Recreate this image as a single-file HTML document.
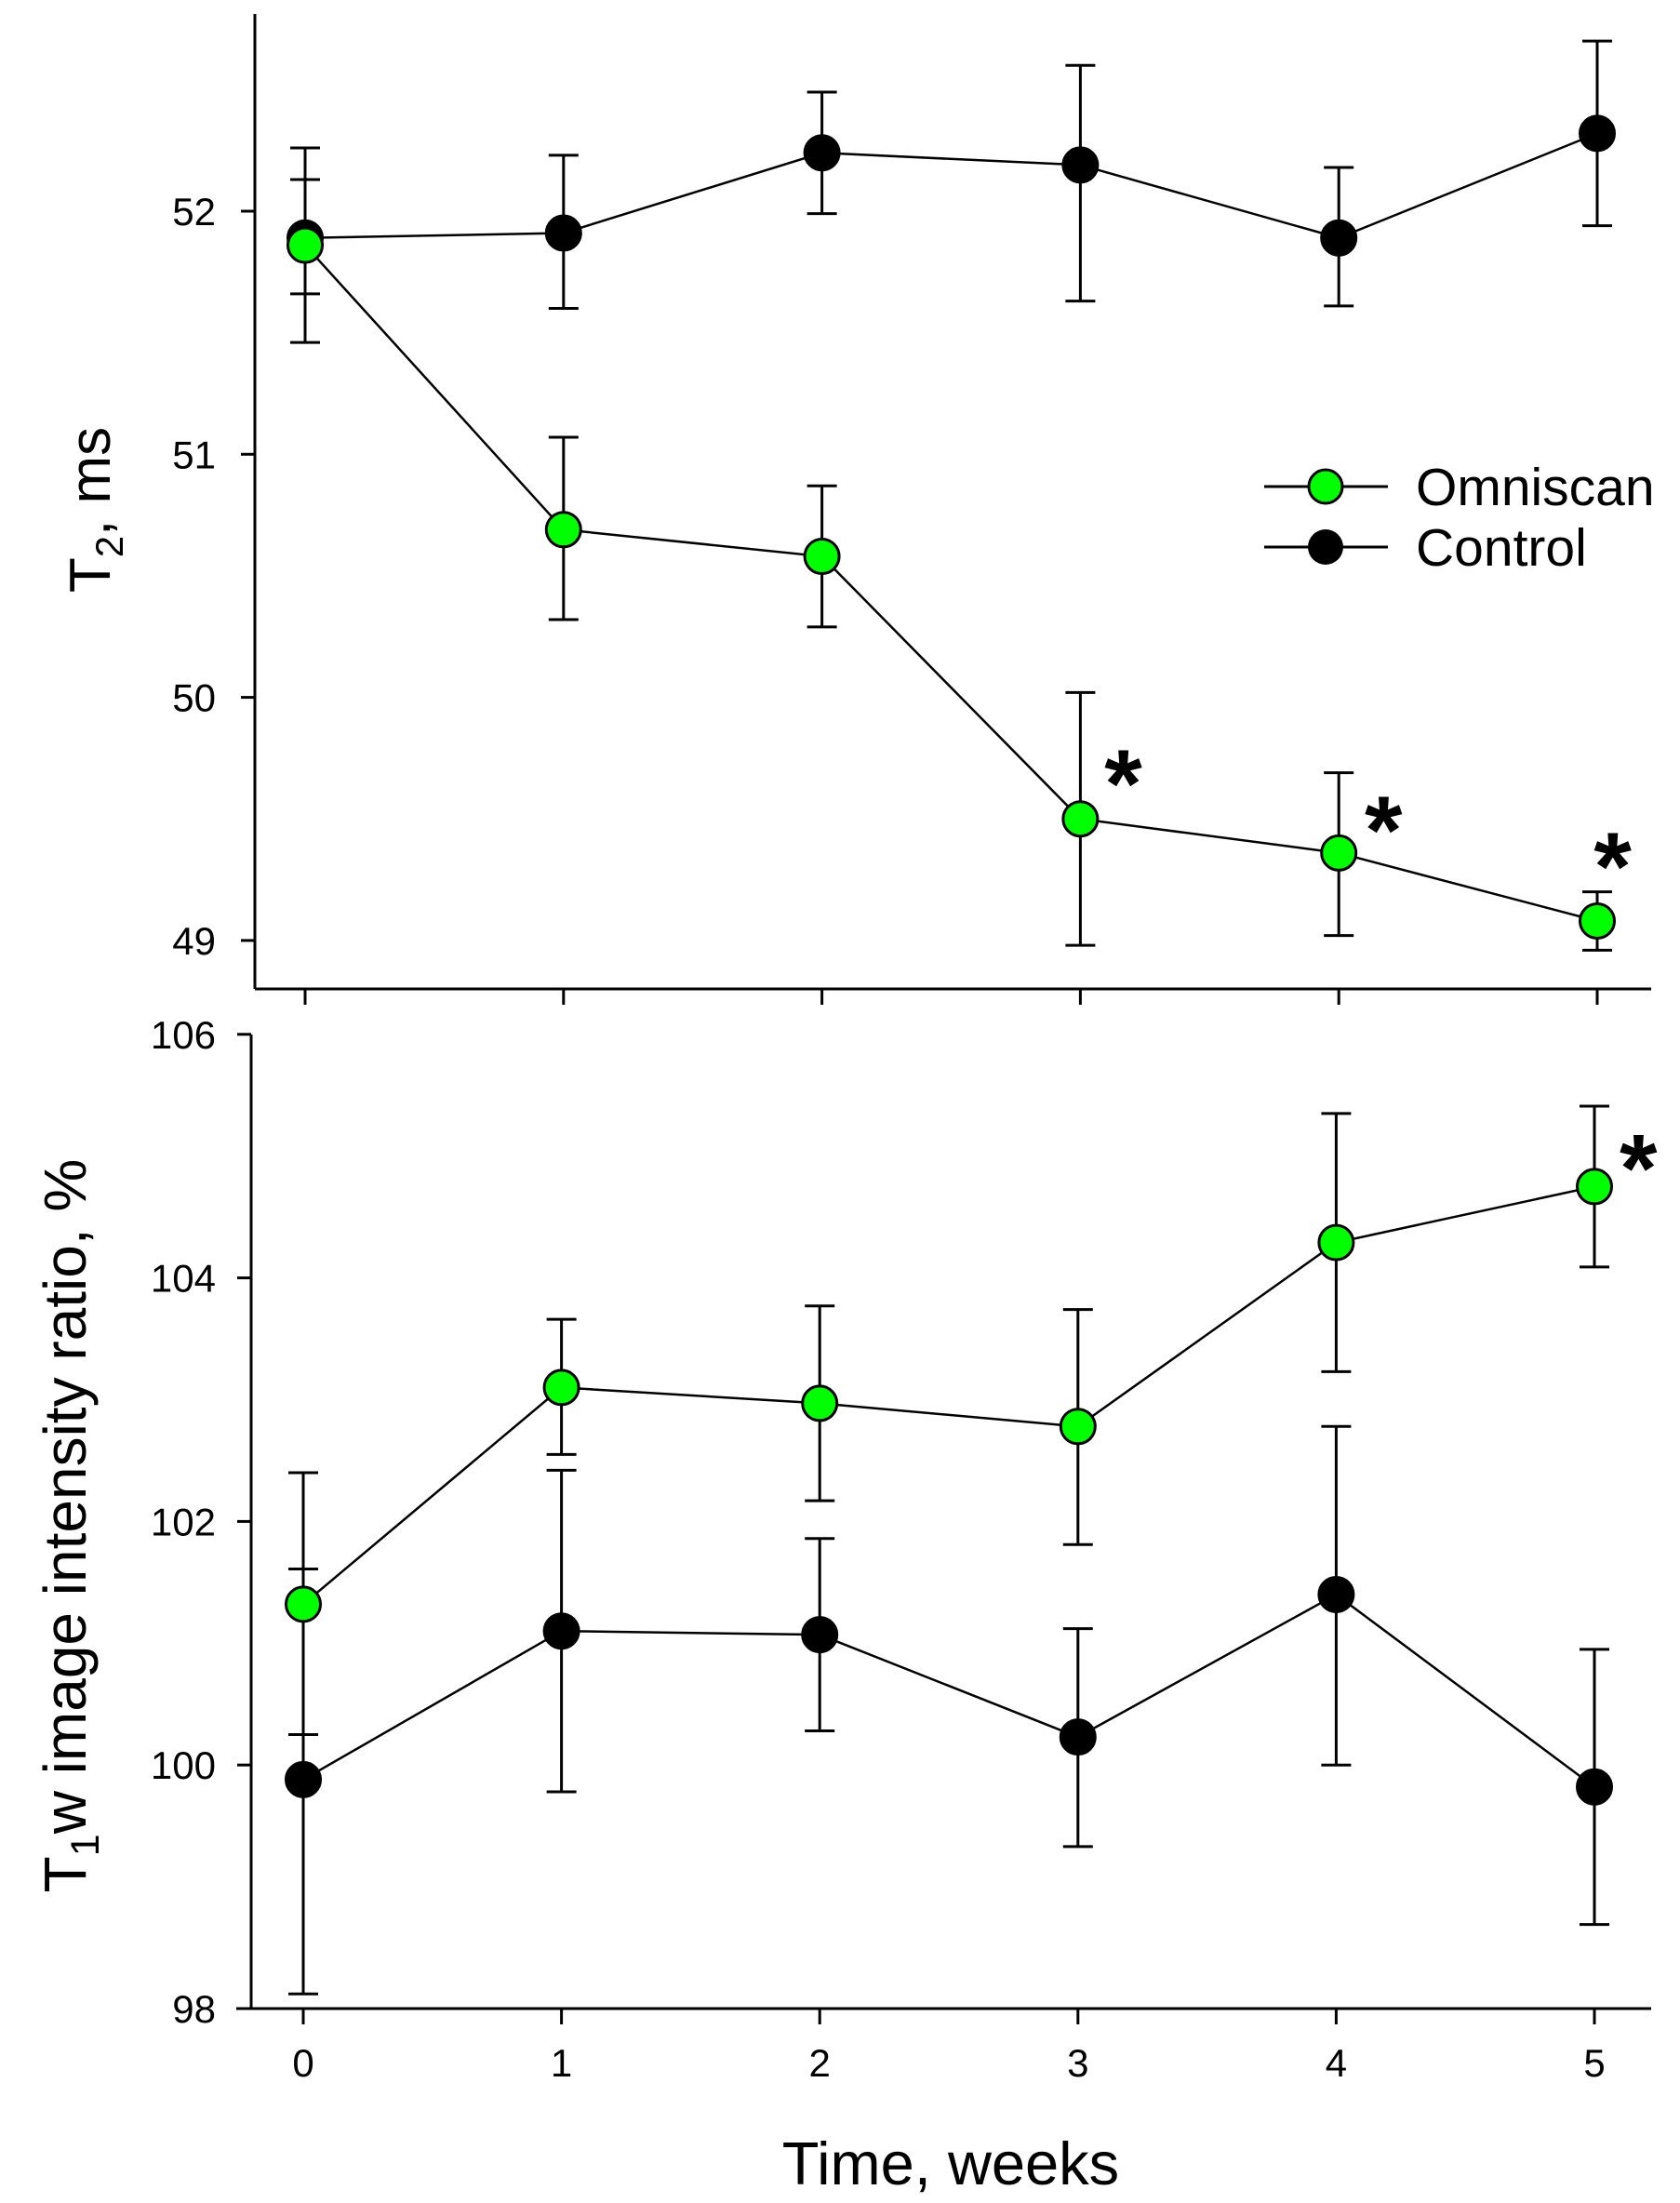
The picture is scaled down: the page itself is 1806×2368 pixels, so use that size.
<!DOCTYPE html>
<html><head><meta charset="utf-8"><style>
html,body{margin:0;padding:0;background:#fff;}
svg{display:block;font-family:"Liberation Sans",Arial,sans-serif;}
</style></head><body>
<svg id="chart" width="1806" height="2368" viewBox="0 0 1806 2368" xmlns="http://www.w3.org/2000/svg">
<g id="top"></g>
<g id="bot"></g>
<text transform="translate(118,548) rotate(-90)" text-anchor="middle" font-size="62">T<tspan font-size="42" dy="14">2</tspan><tspan dy="-14">, ms</tspan></text>
<text transform="translate(92,1640) rotate(-90)" text-anchor="middle" font-size="64">T<tspan font-size="43" dy="14">1</tspan><tspan dy="-14">w image intensity ratio, %</tspan></text>
<text x="1022" y="2348" text-anchor="middle" font-size="65">Time, weeks</text>
<g>
<g>
<line x1="1359" y1="523" x2="1492" y2="523" stroke="#000" stroke-width="3"/>
<circle cx="1425" cy="523" r="18" fill="#00ff00" stroke="#000" stroke-width="3"/>
<text x="1522" y="543" font-size="57">Omniscan</text></g>
<g>
<line x1="1359" y1="588" x2="1492" y2="588" stroke="#000" stroke-width="3"/>
<circle cx="1425" cy="588" r="19" fill="#000"/>
<text x="1522" y="608" font-size="57">Control</text></g>
</g>
</svg>
<script>
const weeks = [0,1,2,3,4,5];
const t2Ticks = [49,50,51,52];
const t2Omni = [51.86,50.69,50.58,49.50,49.36,49.08];
const t2OmniHi = [52.13,51.07,50.87,50.02,49.69,49.20];
const t2OmniLo = [51.66,50.32,50.29,48.98,49.02,48.96];
const t2Ctrl = [51.89,51.91,52.24,52.19,51.89,52.32];
const t2CtrlHi = [52.26,52.23,52.49,52.60,52.18,52.70];
const t2CtrlLo = [51.46,51.60,51.99,51.63,51.61,51.94];
const t2StarX = [3.166,4.173,5.06];
const t2StarY = [49.73,49.54,49.39];
const t1Ticks = [98,100,102,104,106];
const t1Omni = [101.32,103.10,102.97,102.78,104.29,104.75];
const t1OmniHi = [102.40,103.66,103.77,103.74,105.35,105.41];
const t1OmniLo = [100.25,102.55,102.17,101.81,103.23,104.09];
const t1Ctrl = [99.88,101.10,101.07,100.23,101.40,99.82];
const t1CtrlHi = [101.61,102.42,101.86,101.12,102.78,100.95];
const t1CtrlLo = [98.12,99.78,100.28,99.33,100.00,98.69];
const t1StarX = [5.17];
const t1StarY = [105.07];

const NS='http://www.w3.org/2000/svg';
function mk(parent,tag,attrs){const e=document.createElementNS(NS,tag);for(const k in attrs)e.setAttribute(k,attrs[k]);parent.appendChild(e);return e;}

function panel(g,cfg){
  const xs=w=>cfg.x0+w*cfg.dx;
  const ys=v=>cfg.y0+(v-cfg.v0)*cfg.dy;
  const ya=mk(g,'line',{x1:cfg.ax,y1:cfg.ytop,x2:cfg.ax,y2:cfg.ybase,stroke:'#000','stroke-width':3});
  
  
  const xa=mk(g,'line',{x1:cfg.xleft,y1:cfg.ybase,x2:1775,y2:cfg.ybase,stroke:'#000','stroke-width':3});
  
  
  cfg.ticks.forEach(t=>{
    const l=mk(g,'line',{x1:cfg.ax-15,y1:ys(t),x2:cfg.ax,y2:ys(t),stroke:'#000','stroke-width':3});
    
    
    const tx=mk(g,'text',{x:232,y:ys(t)+15,'text-anchor':'end','font-size':42});
    tx.textContent=t;
    
    
  });
  weeks.forEach(w=>{
    const l=mk(g,'line',{x1:xs(w),y1:cfg.ybase,x2:xs(w),y2:cfg.ybase+17,stroke:'#000','stroke-width':3});
    
    
    if(cfg.xlabels){
      const tx=mk(g,'text',{x:xs(w),y:2232,'text-anchor':'middle','font-size':42});
      tx.textContent=w;
      
      
    }
  });
  cfg.series.forEach(s=>{
    const sg=mk(g,'g',{});
    
    
    weeks.forEach((w,i)=>{
      const e=mk(sg,'path',{d:`M${xs(w)},${ys(s.hi[i])}V${ys(s.lo[i])}M${xs(w)-16},${ys(s.hi[i])}h32M${xs(w)-16},${ys(s.lo[i])}h32`,stroke:'#000','stroke-width':3,fill:'none'});
      
      
    });
    const pl=mk(sg,'polyline',{points:weeks.map((w,i)=>xs(w)+','+ys(s.v[i])).join(' '),fill:'none',stroke:'#000','stroke-width':2.5});
    
    
  });
  cfg.series.forEach(s=>{
    weeks.forEach((w,i)=>{
      const c=mk(g,'circle',{cx:xs(w),cy:ys(s.v[i]),r:18.5,fill:s.color,stroke:'#000','stroke-width':3});
      
      
    });
  });
  cfg.starX.forEach((sx,i)=>{
    const st=mk(g,'text',{x:xs(sx),y:ys(cfg.starY[i])+58,'text-anchor':'middle','font-size':104,'font-weight':'bold'});
    st.textContent='*';
    
    
  });
}

panel(document.getElementById('top'),{
  x0:328,dx:277.8,y0:227,v0:52,dy:-261.3,ax:274,ytop:15,ybase:1063,xleft:274,
  ticks:t2Ticks,xlabels:false,
  series:[{name:'control',v:t2Ctrl,hi:t2CtrlHi,lo:t2CtrlLo,color:'#000'},
          {name:'omniscan',v:t2Omni,hi:t2OmniHi,lo:t2OmniLo,color:'#00ff00'}],
  starX:t2StarX,starY:t2StarY
});
panel(document.getElementById('bot'),{
  x0:326,dx:277.6,y0:2159,v0:98,dy:-130.9,ax:270,ytop:1112,ybase:2159,xleft:254,
  ticks:t1Ticks,xlabels:true,
  series:[{name:'omniscan',v:t1Omni,hi:t1OmniHi,lo:t1OmniLo,color:'#00ff00'},
          {name:'control',v:t1Ctrl,hi:t1CtrlHi,lo:t1CtrlLo,color:'#000'}],
  starX:t1StarX,starY:t1StarY
});
</script>
</body></html>
